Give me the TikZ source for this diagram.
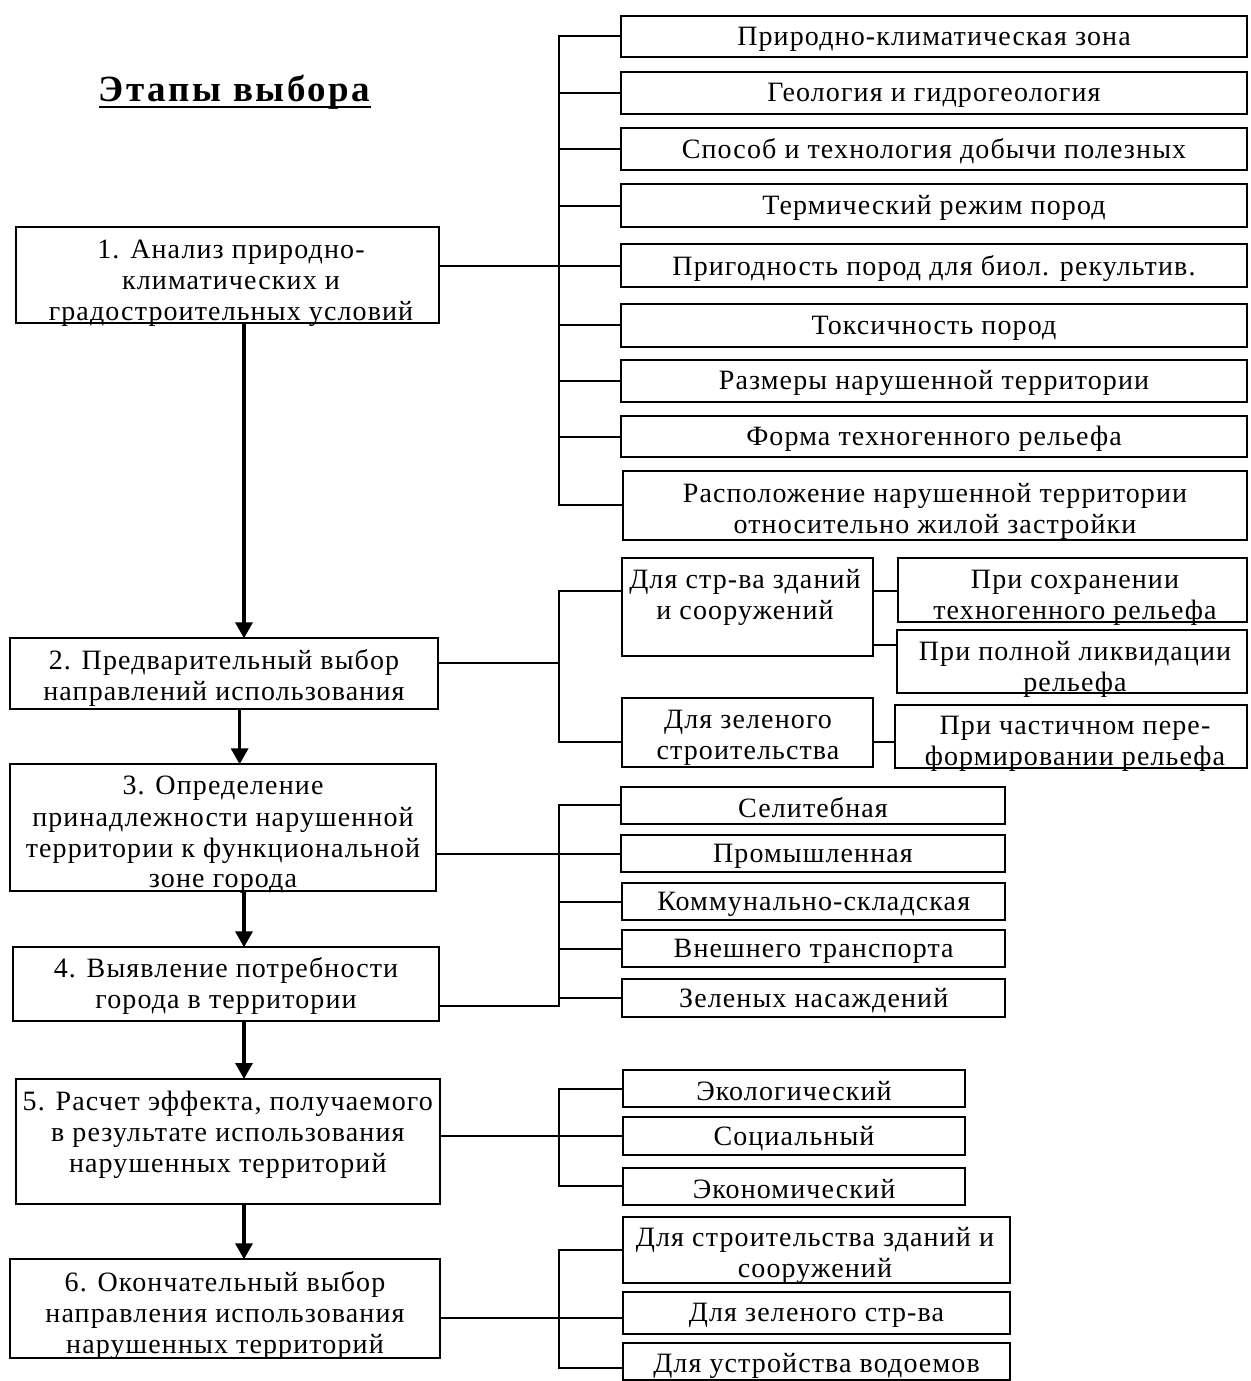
\documentclass[tikz,border=0pt]{standalone}
\usepackage{fontspec}
\setmainfont{Liberation Serif}
\newfontfamily\bodyf{Liberation Serif}[LetterSpace=4]
\newfontfamily\titlef{Liberation Serif}[LetterSpace=7]
\usetikzlibrary{arrows.meta}
\tikzset{
  box/.style={draw,line width=2pt,inner sep=0pt,outer sep=0pt},
  txt/.style={font=\bodyf\fontsize{28}{31}\selectfont,align=center,inner sep=0pt,yshift=-2.5pt},
  conn/.style={line width=2pt,line join=miter},
  arr/.style={line width=3.5pt,-{Triangle[width=17pt,length=16pt]}},
  ttl/.style={font=\titlef\bfseries\fontsize{37}{40}\selectfont,inner sep=0pt}
}
\newcommand\mkbox[5]{\node[box,minimum width={#4-#2},minimum height={#5-#3}] (#1) at ({(#2+#4)/2},{(#3+#5)/2}) {};}
\begin{document}
\begin{tikzpicture}[x=1pt,y=-1pt]
\useasboundingbox (0,0) rectangle (1250,1381);
% title
\node[ttl,anchor=base] (title) at (234.75,101.7) {Этапы выбора};
\draw[line width=2pt] ([yshift=-5pt]title.base west) -- ([yshift=-5pt]title.base east);
% left column
\mkbox{b1}{16}{226.7}{439}{323.3}
\mkbox{b2}{10}{638.3}{437.6}{709.3}
\mkbox{b3}{10}{764.3}{436}{890.7}
\mkbox{b4}{13}{947.3}{439}{1020.7}
\mkbox{b5}{16}{1079}{439.6}{1204.3}
\mkbox{b6}{10}{1259.3}{439.6}{1357.7}
\node[txt] (b1t) at (231,281) {1. Анализ природно-\\климатических и\\градостроительных условий};
\node[txt] (b2t) at (224,675.5) {2. Предварительный выбор\\направлений использования};
\node[txt] (b3t) at (223,832.7) {3. Определение\\принадлежности нарушенной\\территории к функциональной\\зоне города};
\node[txt] (b4t) at (226,983.7) {4. Выявление потребности\\города в территории};
\node[txt] (b5t) at (227.8,1132.7) {5. Расчет эффекта, получаемого\\в результате использования\\нарушенных территорий};
\node[txt] (b6t) at (225,1313) {6. Окончательный выбор\\направления использования\\нарушенных территорий};
% group 1
\mkbox{r1}{621}{15.7}{1247}{57.3}
\mkbox{r2}{621}{72.3}{1247}{114.3}
\mkbox{r3}{621}{127.7}{1247}{170}
\mkbox{r4}{621}{184.3}{1247}{227.3}
\mkbox{r5}{621}{244.3}{1247}{286.7}
\mkbox{r6}{621}{304}{1247}{346.7}
\mkbox{r7}{621}{360}{1247}{401.7}
\mkbox{r8}{621}{415.7}{1247}{457.3}
\mkbox{r9}{623}{470.7}{1247}{540}
\node[txt] (r1t) at (r1) {Природно-климатическая зона};
\node[txt] (r2t) at (r2) {Геология и гидрогеология};
\node[txt] (r3t) at (r3) {Способ и технология добычи полезных};
\node[txt] (r4t) at (r4) {Термический режим пород};
\node[txt] (r5t) at (r5) {Пригодность пород для биол. рекультив.};
\node[txt] (r6t) at (r6) {Токсичность пород};
\node[txt] (r7t) at (r7) {Размеры нарушенной территории};
\node[txt] (r8t) at (r8) {Форма техногенного рельефа};
\node[txt] (r9t) at (935,509) {Расположение нарушенной территории\\относительно жилой застройки};
% group 2
\mkbox{s1}{621.5}{558.3}{873}{655.7}
\mkbox{p1}{898}{558.3}{1247}{621.7}
\mkbox{p2}{897}{630}{1247}{693.3}
\mkbox{s2}{621.5}{697.7}{873}{766.7}
\mkbox{p3}{895}{705}{1247}{768.3}
\node[txt] (s1t) at (745,595) {Для стр-ва зданий\\и сооружений};
\node[txt] (p1t) at (1075,595) {При сохранении\\техногенного рельефа};
\node[txt] (p2t) at (1075,667) {При полной ликвидации\\рельефа};
\node[txt] (s2t) at (748,735) {Для зеленого\\строительства};
\node[txt] (p3t) at (1075,741) {При частичном пере-\\формировании рельефа};
% group 3
\mkbox{z1}{621}{786.7}{1005}{824}
\mkbox{z2}{621}{835}{1005}{872.3}
\mkbox{z3}{622.4}{882.7}{1005}{920.3}
\mkbox{z4}{622.4}{930}{1005}{967.3}
\mkbox{z5}{622.4}{979.3}{1005}{1017.3}
\node[txt] (z1t) at (z1) {Селитебная};
\node[txt] (z2t) at (z2) {Промышленная};
\node[txt] (z3t) at (z3) {Коммунально-складская};
\node[txt] (z4t) at (z4) {Внешнего транспорта};
\node[txt] (z5t) at (z5) {Зеленых насаждений};
% group 5
\mkbox{e1}{623}{1070}{965}{1107.3}
\mkbox{e2}{623}{1117.3}{965}{1155.3}
\mkbox{e3}{623}{1167.7}{965}{1205}
\node[txt] (e1t) at (e1) {Экологический};
\node[txt] (e2t) at (e2) {Социальный};
\node[txt] (e3t) at (e3) {Экономический};
% group 6
\mkbox{f1}{623}{1216.7}{1010}{1282.7}
\mkbox{f2}{623}{1292.3}{1010}{1334}
\mkbox{f3}{623}{1342.7}{1010}{1380}
\node[txt] (f1t) at (815,1253) {Для строительства зданий и\\сооружений};
\node[txt] (f2t) at (f2) {Для зеленого стр-ва};
\node[txt] (f3t) at (816.5,1363) {Для устройства водоемов};
% arrows
\coordinate (ax) at (244,0);
\coordinate (ax2) at (239.6,0);
\draw[arr] (b1.south -| ax) -- (b2.north -| ax);
\draw[arr] (b2.south -| ax2) -- (b3.north -| ax2);
\draw[arr] (b3.south -| ax) -- (b4.north -| ax);
\draw[arr] (b4.south -| ax) -- (b5.north -| ax);
\draw[arr] (b5.south -| ax) -- (b6.north -| ax);
% connectors group 1
\coordinate (g) at (559,0);
\draw[conn] (r1.west) -- (r1.west -| g) -- (r9.west -| g) -- (r9.west);
\foreach \n in {r2,r3,r4,r6,r7,r8} {\draw[conn] (\n.west -| g) -- (\n.west);}
\draw[conn] (b1.east |- r5.west) -- (r5.west);
% group 2
\coordinate (g2a) at (559,590.7);
\coordinate (g2b) at (559,741.7);
\coordinate (g2c) at (559,662.7);
\coordinate (g2d) at (0,645);
\draw[conn] (s1.west |- g2a) -- (g2a) -- (g2b) -- (s2.west |- g2b);
\draw[conn] (b2.east |- g2c) -- (g2c);
\draw[conn] (s1.east |- g2a) -- (p1.west |- g2a);
\draw[conn] (s1.east |- g2d) -- (p2.west |- g2d);
\draw[conn] (s2.east |- g2b) -- (p3.west |- g2b);
% group 3
\coordinate (g3b) at (559,1006);
\draw[conn] (z1.west) -- (z1.west -| g) -- (g3b) -- (b4.east |- g3b);
\foreach \n in {z3,z4,z5} {\draw[conn] (\n.west -| g) -- (\n.west);}
\draw[conn] (b3.east |- z2.west) -- (z2.west);
% group 5
\draw[conn] (e1.west) -- (e1.west -| g) -- (e3.west -| g) -- (e3.west);
\draw[conn] (b5.east |- e2.west) -- (e2.west);
% group 6
\coordinate (g6b) at (559,1367.7);
\coordinate (g6c) at (559,1317.5);
\draw[conn] (f1.west) -- (f1.west -| g) -- (g6b) -- (f3.west |- g6b);
\draw[conn] (b6.east |- g6c) -- (f2.west |- g6c);
\end{tikzpicture}
\end{document}
